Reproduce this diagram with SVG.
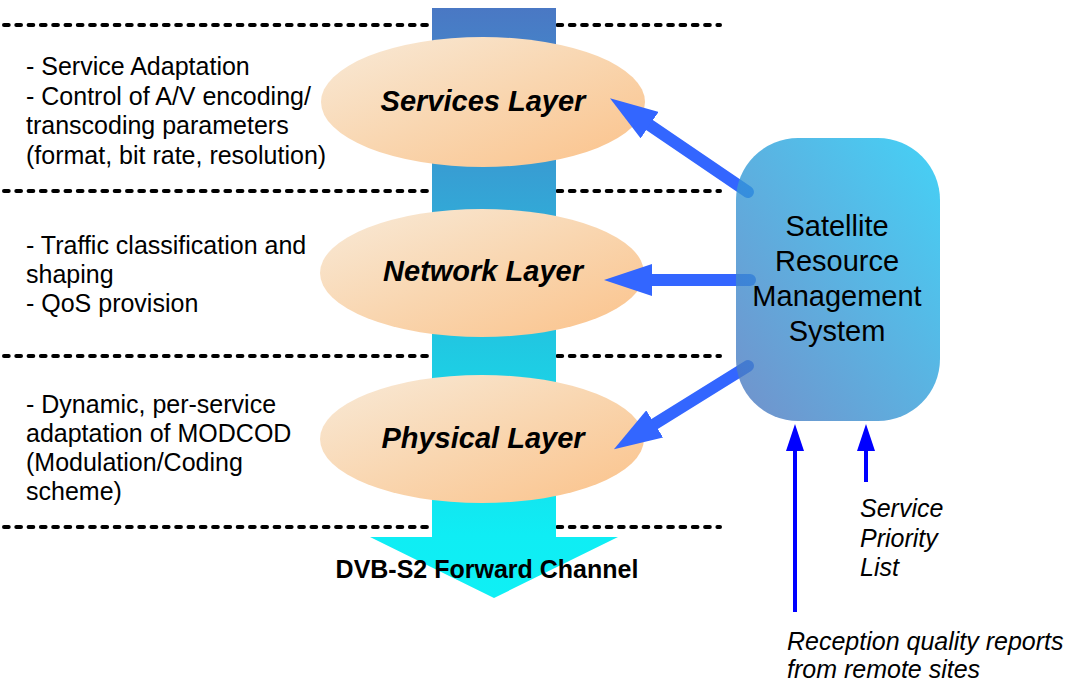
<svg xmlns="http://www.w3.org/2000/svg" width="1069" height="686" viewBox="0 0 1069 686">
  <style>
    .dash { stroke: #000; stroke-width: 4; stroke-dasharray: 4.7 7.6; stroke-linecap: round; fill: none; }
    .note { font-family: "Liberation Sans", Arial, sans-serif; font-size: 25px; fill: #000; }
    .layer { font-family: "Liberation Sans", Arial, sans-serif; font-size: 29px; font-weight: bold; font-style: italic; fill: #000; text-anchor: middle; }
    .boxtxt { font-family: "Liberation Sans", Arial, sans-serif; font-size: 29px; fill: #000; text-anchor: middle; }
    .ital { font-family: "Liberation Sans", Arial, sans-serif; font-size: 25px; font-style: italic; fill: #000; }
    .title { font-family: "Liberation Sans", Arial, sans-serif; font-size: 25px; font-weight: bold; fill: #000; text-anchor: middle; }
    .fat { stroke: #3366ff; stroke-width: 12; stroke-linecap: round; fill: none; }
    .thin { stroke: #0000ff; stroke-width: 4; fill: none; }
  </style>
  <defs>
    <linearGradient id="bandGrad" gradientUnits="userSpaceOnUse" x1="0" y1="8" x2="0" y2="600">
      <stop offset="0" stop-color="#4a78c4"/>
      <stop offset="0.31" stop-color="#35a3d5"/>
      <stop offset="0.59" stop-color="#1fcbe3"/>
      <stop offset="0.89" stop-color="#0fedf4"/>
      <stop offset="1" stop-color="#0ff0f5"/>
    </linearGradient>
    <linearGradient id="ellGrad" x1="0" y1="0" x2="1" y2="1">
      <stop offset="0" stop-color="#f8ead8"/>
      <stop offset="0.5" stop-color="#f9d6b0"/>
      <stop offset="1" stop-color="#fbc28a"/>
    </linearGradient>
    <linearGradient id="boxGrad" x1="1" y1="0" x2="0" y2="1">
      <stop offset="0" stop-color="#16c6f4"/>
      <stop offset="1" stop-color="#4f76be"/>
    </linearGradient>
    <marker id="fatHead" markerUnits="userSpaceOnUse" viewBox="0 0 48 32" markerWidth="48" markerHeight="32" refX="2" refY="16" orient="auto">
      <path d="M0,0 L48,16 L0,32 Z" fill="#3366ff"/>
    </marker>
    <marker id="thinHead" markerUnits="userSpaceOnUse" viewBox="0 0 27 18" markerWidth="27" markerHeight="18" refX="1" refY="9" orient="auto">
      <path d="M0,0 L27,9 L0,18 Z" fill="#0000ff"/>
    </marker>
  </defs>

  <g id="dividers">
    <line class="dash" x1="4" y1="25" x2="720" y2="25"/>
    <line class="dash" x1="4" y1="191" x2="720" y2="191"/>
    <line class="dash" x1="4" y1="356" x2="720" y2="356"/>
    <line class="dash" x1="4" y1="527" x2="720" y2="527"/>
  </g>

  <g id="forward-channel">
    <polygon points="432,8 556,8 556,537 618,537 494,598 370,537 432,537" fill="url(#bandGrad)"/>
    <text class="title" x="487" y="578">DVB-S2 Forward Channel</text>
  </g>

  <g id="services-layer">
    <ellipse cx="483" cy="102" rx="162" ry="65" fill="url(#ellGrad)"/>
    <text class="layer" x="483" y="111">Services Layer</text>
  </g>
  <g id="network-layer">
    <ellipse cx="482" cy="273" rx="162" ry="64" fill="url(#ellGrad)"/>
    <text class="layer" x="483" y="281">Network Layer</text>
  </g>
  <g id="physical-layer">
    <ellipse cx="482" cy="439" rx="162" ry="64" fill="url(#ellGrad)"/>
    <text class="layer" x="483" y="448">Physical Layer</text>
  </g>

  <g id="services-notes">
    <text class="note" x="26" y="75">- Service Adaptation</text>
    <text class="note" x="26" y="104.5">- Control of A/V encoding/</text>
    <text class="note" x="26" y="134">transcoding parameters</text>
    <text class="note" x="26" y="163.5">(format, bit rate, resolution)</text>
  </g>
  <g id="network-notes">
    <text class="note" x="26" y="254">- Traffic classification and</text>
    <text class="note" x="26" y="283">shaping</text>
    <text class="note" x="26" y="312">- QoS provision</text>
  </g>
  <g id="physical-notes">
    <text class="note" x="26" y="413">- Dynamic, per-service</text>
    <text class="note" x="26" y="442">adaptation of MODCOD</text>
    <text class="note" x="26" y="471">(Modulation/Coding</text>
    <text class="note" x="26" y="500">scheme)</text>
  </g>

  <g id="connectors">
    <line class="fat" x1="748" y1="192" x2="648" y2="124" marker-end="url(#fatHead)"/>
    <line class="fat" x1="750" y1="280" x2="650" y2="280" marker-end="url(#fatHead)"/>
    <line class="fat" x1="748" y1="366" x2="653" y2="425" marker-end="url(#fatHead)"/>
    <line class="thin" x1="795" y1="612" x2="795" y2="450" marker-end="url(#thinHead)"/>
    <line class="thin" x1="866" y1="482" x2="866" y2="450" marker-end="url(#thinHead)"/>
  </g>

  <g id="srm-system">
    <rect x="736" y="138" width="204" height="283" rx="62" ry="62" fill="url(#boxGrad)" fill-opacity="0.8"/>
    <text class="boxtxt" x="837" y="236">Satellite</text>
    <text class="boxtxt" x="837" y="271">Resource</text>
    <text class="boxtxt" x="837" y="306">Management</text>
    <text class="boxtxt" x="837" y="341">System</text>
  </g>

  <g id="service-priority-label">
    <text class="ital" x="860" y="517">Service</text>
    <text class="ital" x="860" y="547">Priority</text>
    <text class="ital" x="860" y="576">List</text>
  </g>
  <g id="reception-label">
    <text class="ital" x="787" y="650">Reception quality reports</text>
    <text class="ital" x="787" y="678">from remote sites</text>
  </g>
</svg>
